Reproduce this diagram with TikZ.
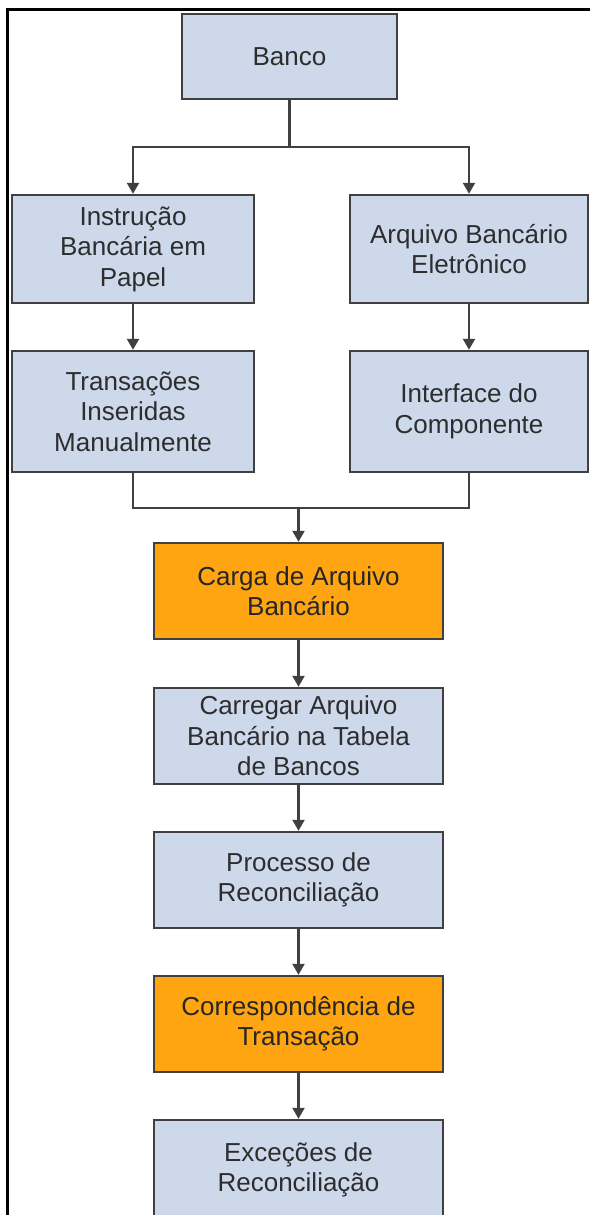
\documentclass[tikz,border=0pt]{standalone}
\usepackage{fontspec}
\setmainfont{Liberation Sans}
\usetikzlibrary{arrows.meta}
\definecolor{boxblue}{RGB}{205,217,235}
\definecolor{boxorange}{RGB}{255,165,18}
\definecolor{edgegray}{RGB}{64,64,64}
\definecolor{txtgray}{RGB}{45,45,45}
\tikzset{
  flowbox/.style={draw=edgegray, line width=2.4pt, fill=boxblue, inner sep=0pt,
    align=center, text=txtgray, font=\fontsize{26}{30.5}\selectfont},
  hotbox/.style={flowbox, fill=boxorange, text=black!85},
  link/.style={draw=edgegray, line width=2.2pt},
  arr/.style={link, -{Triangle[length=11pt,width=12pt]}},
  frameline/.style={draw=black, line width=3pt}
}
\begin{document}
\begin{tikzpicture}[x=1pt,y=-1pt]
\useasboundingbox (0,0) rectangle (589,1215);
\fill[white] (0,0) rectangle (589,1215);
% frame
\coordinate (fTL) at (7.5,10);
\coordinate (fTR) at (595,10);
\coordinate (fBL) at (7.5,1225);
\draw[frameline] (fTR) -- (fTL) -- (fBL);
% nodes
\node[flowbox, minimum width=215pt, minimum height=85pt] (banco) at (289.5,56.5) {Banco};
\node[flowbox, minimum width=242pt, minimum height=108pt] (instr) at (133,249) {Instrução\\Bancária em\\Papel};
\node[flowbox, minimum width=238pt, minimum height=108pt] (arq) at (469,249) {Arquivo Bancário\\Eletrônico};
\node[flowbox, minimum width=242pt, minimum height=121pt] (trans) at (133,411.5) {Transações\\Inseridas\\Manualmente};
\node[flowbox, minimum width=238pt, minimum height=121pt] (iface) at (469,411.5) {Interface do\\Componente};
\node[hotbox, minimum width=289pt, minimum height=96pt] (carga) at (298.5,591) {Carga de Arquivo\\Bancário};
\node[flowbox, minimum width=289pt, minimum height=96pt] (carr) at (298.5,736) {Carregar Arquivo\\Bancário na Tabela\\de Bancos};
\node[flowbox, minimum width=289pt, minimum height=96pt] (proc) at (298.5,880) {Processo de\\Reconciliação};
\node[hotbox, minimum width=289pt, minimum height=96pt] (corr) at (298.5,1024) {Correspondência de\\Transação};
\node[flowbox, minimum width=289pt, minimum height=100pt] (exc) at (298.5,1170) {Exceções de\\Reconciliação};
% connectors
\coordinate (split) at (289.5,147);
\coordinate (merge) at (298.5,508);
\draw[link] (banco.south) -- (split);
\draw[arr] (split) -| (instr.north);
\draw[arr] (split) -| (arq.north);
\draw[arr] (instr.south) -- (trans.north);
\draw[arr] (arq.south) -- (iface.north);
\draw[link] (trans.south) |- (merge);
\draw[link] (iface.south) |- (merge);
\draw[arr] (merge) -- (carga.north);
\draw[arr] (carga.south) -- (carr.north);
\draw[arr] (carr.south) -- (proc.north);
\draw[arr] (proc.south) -- (corr.north);
\draw[arr] (corr.south) -- (exc.north);
\end{tikzpicture}
\end{document}
